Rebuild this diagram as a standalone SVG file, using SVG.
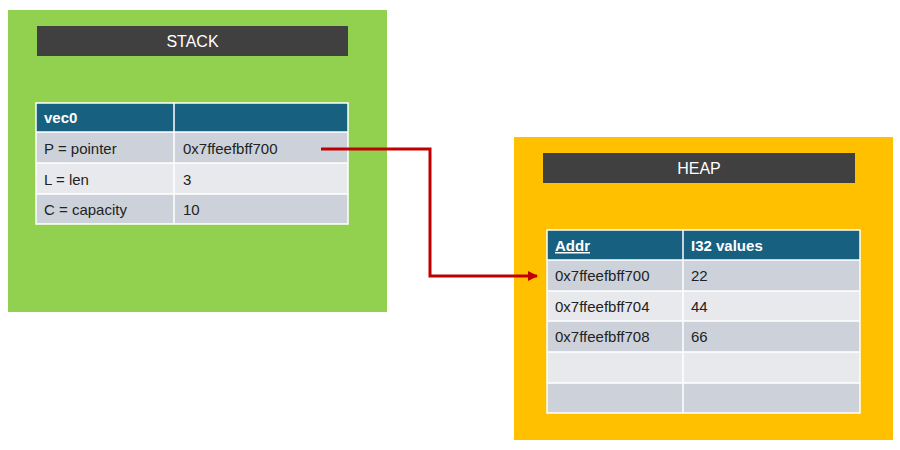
<svg xmlns="http://www.w3.org/2000/svg" width="900" height="450" viewBox="0 0 900 450">
<style>
text{font-family:"Liberation Sans",Arial,sans-serif;font-size:15px;fill:#222}
.t{fill:#fff;font-size:16px}
.h{fill:#fff;font-weight:bold;font-size:15px}
.bar{fill:#404040}
.hd{fill:#17607f}
.r1{fill:#cdd2da}
.r2{fill:#e8e9ed}
.g line{stroke:#fff;stroke-width:1.5}
.box{fill:none;stroke:#fff;stroke-width:1.5}
</style>
<defs><marker id="ah" markerWidth="10" markerHeight="10" refX="9" refY="5" orient="auto" markerUnits="userSpaceOnUse"><path d="M0,0 L10,5 L0,10 z" fill="#c00000"/></marker></defs>
<rect width="900" height="450" fill="#fff"/>
<g id="stack">
<rect x="8" y="10" width="379" height="302" fill="#92d050"/>
<rect class="bar" x="37" y="26" width="311" height="30"/>
<text class="t" x="192.5" y="47" text-anchor="middle">STACK</text>
<g class="g">
<rect class="hd" x="36" y="103" width="312" height="29"/>
<rect class="r1" x="36" y="132" width="312" height="31"/>
<rect class="r2" x="36" y="163" width="312" height="31"/>
<rect class="r1" x="36" y="194" width="312" height="30"/>
<rect class="box" x="36" y="103" width="312" height="121"/>
<line x1="174" y1="103" x2="174" y2="224"/>
<line x1="36" y1="132" x2="348" y2="132"/><line x1="36" y1="163" x2="348" y2="163"/><line x1="36" y1="194" x2="348" y2="194"/>
</g>
<text class="h" x="44" y="123">vec0</text>
<text x="44" y="154">P = pointer</text><text x="183" y="154">0x7ffeefbff700</text>
<text x="44" y="185">L = len</text><text x="183" y="185">3</text>
<text x="44" y="215">C = capacity</text><text x="183" y="215">10</text>
</g>
<g id="heap">
<rect x="514" y="137" width="379" height="303" fill="#ffc000"/>
<rect class="bar" x="543" y="153" width="312" height="30"/>
<text class="t" x="699" y="174" text-anchor="middle">HEAP</text>
<g class="g">
<rect class="hd" x="547" y="230" width="313" height="30"/>
<rect class="r1" x="547" y="260" width="313" height="31"/>
<rect class="r2" x="547" y="291" width="313" height="30"/>
<rect class="r1" x="547" y="321" width="313" height="31"/>
<rect class="r2" x="547" y="352" width="313" height="31"/>
<rect class="r1" x="547" y="383" width="313" height="30"/>
<rect class="box" x="547" y="230" width="313" height="183"/>
<line x1="683" y1="230" x2="683" y2="413"/>
<line x1="547" y1="260" x2="860" y2="260"/><line x1="547" y1="291" x2="860" y2="291"/><line x1="547" y1="321" x2="860" y2="321"/><line x1="547" y1="352" x2="860" y2="352"/><line x1="547" y1="383" x2="860" y2="383"/>
</g>
<text class="h" x="555" y="251" text-decoration="underline">Addr</text><text class="h" x="691" y="251">I32 values</text>
<text x="555" y="281">0x7ffeefbff700</text><text x="691" y="281">22</text>
<text x="555" y="312">0x7ffeefbff704</text><text x="691" y="312">44</text>
<text x="555" y="342">0x7ffeefbff708</text><text x="691" y="342">66</text>
</g>
<g id="connectors">
<path d="M321,149 H430 V276 H537" fill="none" stroke="#c00000" stroke-width="3" marker-end="url(#ah)"/>
</g>
</svg>
